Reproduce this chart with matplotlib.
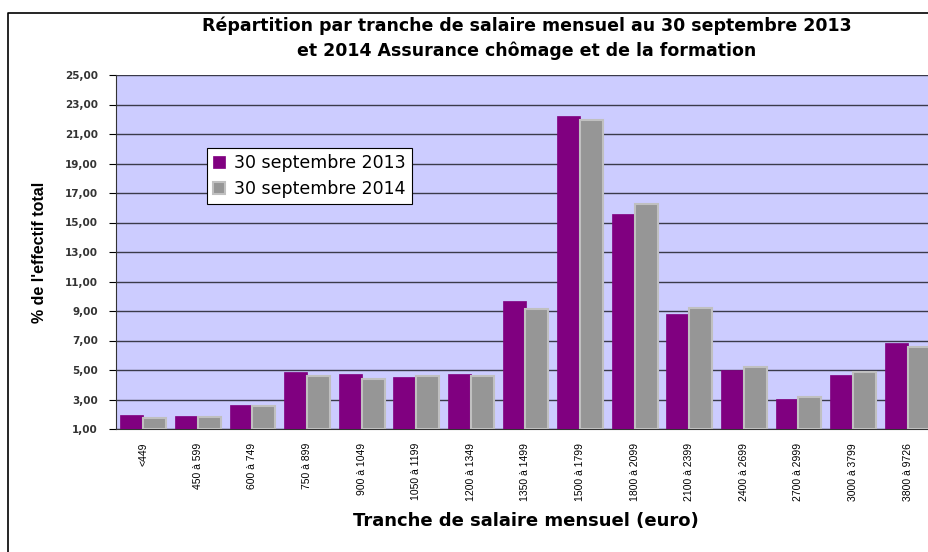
import matplotlib
matplotlib.use("Agg")
import matplotlib.pyplot as plt
import numpy as np
from matplotlib.lines import Line2D

categories = ["<449", "450 à 599", "600 à 749", "750 à 899", "900 à 1049",
              "1050 à 1199", "1200 à 1349", "1350 à 1499", "1500 à 1799",
              "1800 à 2099", "2100 à 2399", "2400 à 2699", "2700 à 2999",
              "3000 à 3799", "3800 à 9726"]
sept_2013 = [1.97, 1.88, 2.60, 4.84, 4.75, 4.55, 4.75, 9.68, 22.20,
             15.56, 8.78, 4.98, 3.03, 4.66, 6.81]
sept_2014 = [1.75, 1.83, 2.56, 4.61, 4.41, 4.61, 4.61, 9.14, 21.97,
             16.23, 9.23, 5.22, 3.19, 4.84, 6.58]
y_ticks = np.arange(1, 26, 2)

plt.rcParams["font.family"] = ["Liberation Sans", "DejaVu Sans"]

W, H = 929, 552
fig = plt.figure(figsize=(W / 100, H / 100), dpi=100)
ax = fig.add_axes([116 / W, 1 - 429 / H, 819 / W, (429 - 75) / H])
ax.set_facecolor("#ccccff")

x = np.arange(len(categories))
bw = 0.42
ax.bar(x - bw / 2, np.array(sept_2013) - 1, bw, bottom=1, color="#800080",
       edgecolor="#800080", linewidth=0.5, label="30 septembre 2013", zorder=3)
ax.bar(x + bw / 2, np.array(sept_2014) - 1, bw, bottom=1, color="#969696",
       edgecolor="#c0c0c0", linewidth=1.5, label="30 septembre 2014", zorder=3)

ax.set_xlim(-0.5, len(categories) - 0.5)
ax.set_ylim(1, 25)
ax.set_yticks(y_ticks)
ax.set_yticklabels([f"{v:.2f}".replace(".", ",") for v in y_ticks],
                   fontsize=7.5, fontweight="bold", color="#333333",
                   family="DejaVu Sans")
ax.yaxis.grid(True, color="#3a3a4a", linewidth=1.0, zorder=1)
ax.set_axisbelow(True)
ax.set_xticks(x)
ax.set_xticklabels(categories, rotation=90, fontsize=7.5, va="top")
ax.tick_params(axis="x", length=0, pad=10)
ax.tick_params(axis="y", length=5, width=0.8, pad=8)
for side in ("top", "right"):
    ax.spines[side].set_visible(False)
ax.spines["left"].set_color("#333333")
ax.spines["bottom"].set_color("#333333")

ax.set_ylabel("% de l'effectif total", fontsize=11.5, fontweight="bold", labelpad=13)
ax.set_xlabel("Tranche de salaire mensuel (euro)", fontsize=13,
              fontweight="bold", labelpad=8, family="DejaVu Sans")

fig.text(527 / W, 1 - 26 / H, "Répartition par tranche de salaire mensuel au 30 septembre 2013",
         ha="center", va="center", fontsize=12.5, fontweight="bold", family="DejaVu Sans")
fig.text(527 / W, 1 - 51 / H, "et 2014 Assurance chômage et de la formation",
         ha="center", va="center", fontsize=12.5, fontweight="bold", family="DejaVu Sans")

leg = ax.legend(loc="upper left", bbox_to_anchor=((207 - 116) / 819, (429 - 148) / 354),
                prop={"family": "DejaVu Sans", "size": 12.5}, frameon=True,
                fancybox=False, handlelength=0.7, handleheight=0.7, borderpad=0.35,
                labelspacing=0.45, handletextpad=0.5, borderaxespad=0)
leg.get_frame().set_edgecolor("#000000")
leg.get_frame().set_linewidth(0.8)
leg.get_frame().set_alpha(1)

# outer chart frame: only top and left edges are visible in the crop
fig.lines.append(Line2D([8 / W, 8 / W, 1], [0, 1 - 13 / H, 1 - 13 / H],
                        transform=fig.transFigure, color="#000000", linewidth=1.2))

fig.savefig("out.png", dpi=100, facecolor="white")
